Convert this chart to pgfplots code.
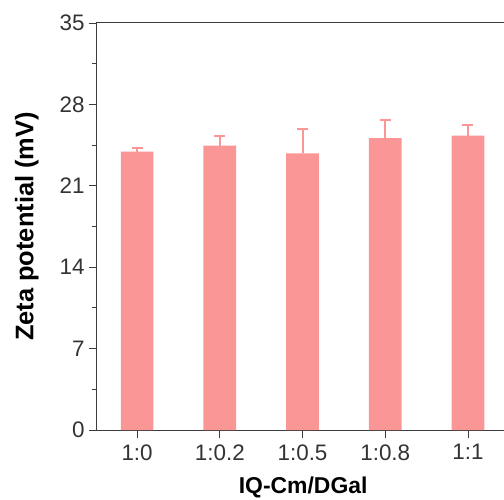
\documentclass[border=0pt]{standalone}
\usepackage{pgfplots}
\pgfplotsset{compat=1.18}
\usepackage{fontspec}
\setmainfont{Liberation Sans}
\definecolor{barpink}{RGB}{250,150,150}
\definecolor{axisgray}{RGB}{60,60,60}
\begin{document}
\begin{tikzpicture}
\begin{axis}[
  at={(0,0)}, anchor=south west,
  scale only axis,
  width=412.3bp, height=407bp,
  xmin=-0.485, xmax=4.5,
  ymin=0, ymax=35,
  xtick={0,1,2,3,4},
  xticklabels={1:0,1:0.2,1:0.5,1:0.8,1:1},
  ytick={0,7,14,21,28,35},
  minor ytick={3.5,10.5,17.5,24.5,31.5},
  tick align=outside,
  xtick pos=bottom, ytick pos=left,
  major tick length=8bp,
  minor tick length=5bp,
  every tick/.style={draw=axisgray, line width=0.9bp},
  minor tick style={draw=axisgray, line width=0.9bp},
  axis line style={draw=axisgray, line width=1bp},
  /pgf/number format/assume math mode=true,
  tick label style={font=\fontsize{22.5}{25}\selectfont, text=black!80},
  xticklabel style={yshift=-3bp},
  yticklabel style={xshift=-1bp},
  xlabel={\textbf{IQ-Cm/DGal}},
  ylabel={\textbf{Zeta potential (mV)}},
  xlabel style={font=\fontsize{23}{27}\selectfont, yshift=-10bp},
  ylabel style={font=\fontsize{25.5}{29}\selectfont, yshift=14bp},
]
\addplot[ybar, bar width=0.395, fill=barpink, draw=none,
  error bars/.cd, y dir=plus, y explicit,
  error bar style={draw=barpink, line width=2bp},
  error mark options={draw=barpink, line width=2bp, rotate=90, mark size=5.5bp}]
  coordinates {
    (0,23.93) +- (0,0.29)
    (1,24.45) +- (0,0.86)
    (2,23.79) +- (0,2.12)
    (3,25.11) +- (0,1.57)
    (4,25.31) +- (0,0.95)
  };
\end{axis}
\pgfresetboundingbox
\useasboundingbox (-97bp,-70bp) rectangle (407bp,430bp);
\end{tikzpicture}
\end{document}
